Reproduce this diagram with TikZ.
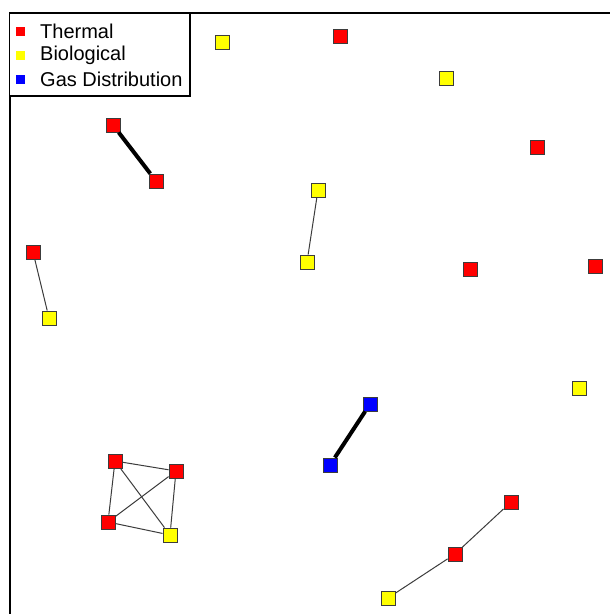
\documentclass[tikz,border=0pt]{standalone}
\usepackage{fontspec}
\setmainfont{Liberation Sans}
\definecolor{nred}{RGB}{255,0,0}
\definecolor{nyel}{RGB}{255,255,0}
\definecolor{nblu}{RGB}{0,0,255}
\definecolor{edgc}{RGB}{60,60,60}
\begin{document}
\begin{tikzpicture}[x=1pt,y=-1pt,
  vbox/.style={draw=edgc,line width=0.9pt,minimum size=14pt,inner sep=0pt,rectangle},
  th/.style={vbox,fill=nred},
  bi/.style={vbox,fill=nyel},
  gd/.style={vbox,fill=nblu},
  thin/.style={draw=edgc,line width=1pt},
  thick/.style={draw=black,line width=4pt},
  lgsq/.style={minimum size=9pt,inner sep=0pt,rectangle},
  lgtxt/.style={anchor=west,font=\fontsize{20}{21}\selectfont,inner sep=0pt}]
\useasboundingbox (0,0) rectangle (610,614);
\fill[white] (0,0) rectangle (610,614);
% frame
\draw[line width=2pt] (9.5,640) -- (9.5,13) -- (640,13);
% nodes
\node[bi] (b1) at (222,42) {};
\node[th] (t1) at (340,36) {};
\node[bi] (b2) at (446,78) {};
\node[th] (t2) at (537,147) {};
\node[th] (t3) at (113,125) {};
\node[th] (t4) at (156,181) {};
\node[bi] (b3) at (318,190) {};
\node[bi] (b4) at (307,262) {};
\node[th] (t5) at (33,252) {};
\node[bi] (b5) at (49,318) {};
\node[th] (t6) at (470,269) {};
\node[th] (t7) at (595,266) {};
\node[bi] (b6) at (579,388) {};
\node[gd] (g1) at (370,404) {};
\node[gd] (g2) at (330,465) {};
\node[th] (c1) at (115,461) {};
\node[th] (c2) at (176,471) {};
\node[th] (c3) at (108,522) {};
\node[bi] (c4) at (170,535) {};
\node[th] (t8) at (511,502) {};
\node[th] (t9) at (455,554) {};
\node[bi] (b7) at (388,598) {};
% edges
\path[thick] (t3) -- (t4);
\path[thin] (b3) -- (b4);
\path[thin] (t5) -- (b5);
\path[thick] (g1) -- (g2);
\path[thin] (c1) -- (c2);
\path[thin] (c1) -- (c3);
\path[thin] (c1) -- (c4);
\path[thin] (c2) -- (c3);
\path[thin] (c2) -- (c4);
\path[thin] (c3) -- (c4);
\path[thin] (t8) -- (t9);
\path[thin] (t9) -- (b7);
% legend
\draw[line width=1.6pt,fill=white] (9.5,13) rectangle (190,96);
\node[lgsq,fill=nred] (l1) at (20.5,31) {};
\node[lgsq,fill=nyel] (l2) at (20.5,55) {};
\node[lgsq,fill=nblu] (l3) at (20.5,79) {};
\node[lgtxt] (lt1) at (40,31) {Thermal};
\node[lgtxt] (lt2) at (40,55) {Biological};
\node[lgtxt] (lt3) at (40,79) {Gas Distribution};
\end{tikzpicture}
\end{document}
